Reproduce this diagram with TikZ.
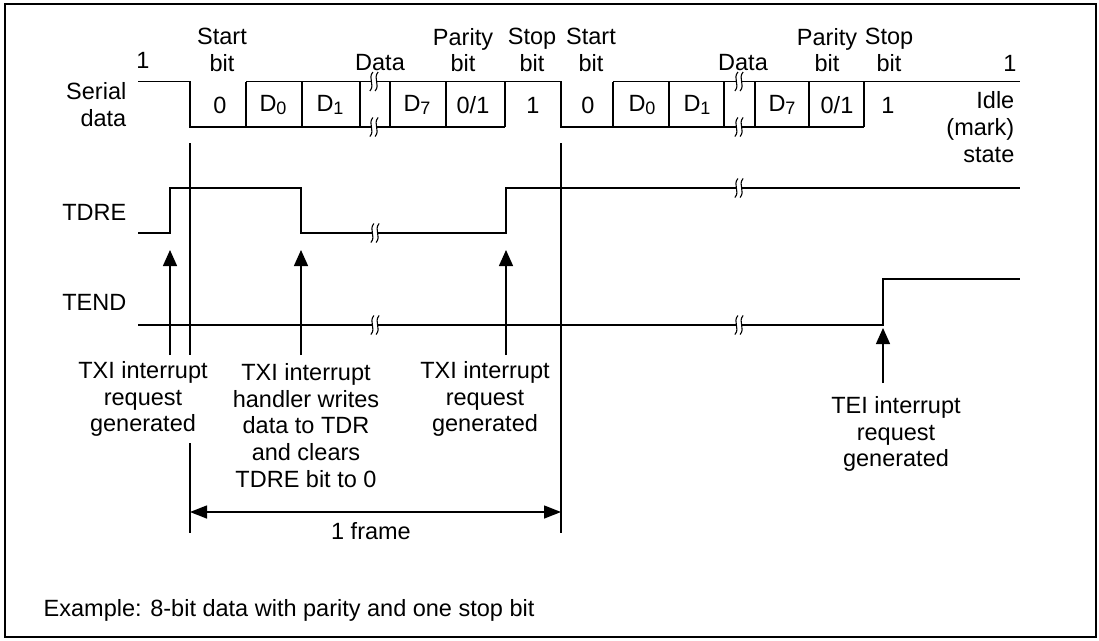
\documentclass[tikz,border=0pt]{standalone}
\usepackage{fontspec}
\setmainfont{Liberation Sans}
\usetikzlibrary{arrows.meta}
\newcommand{\Dsub}[1]{D\raisebox{-0.28ex}{\fontsize{18}{18}\selectfont #1}}
\begin{document}
\begin{tikzpicture}[x=1pt,y=-1pt, line width=1.4pt,
  lbl/.style={inner sep=0pt, font=\fontsize{23.5}{26.7}\selectfont, align=center},
  upar/.style={-{Triangle[length=16pt,width=14pt]}},
  dimar/.style={{Triangle[length=17pt,width=13pt]}-{Triangle[length=17pt,width=13pt]}},
  brk/.pic={
    \fill[white] (-2.6,-6) rectangle (2.6,6);
    \foreach \o in {-2.6,2.6}
      \draw[line width=1.1pt] ({\o+1.5},-9.5) .. controls ({\o-4},-3) and ({\o+4},3) .. ({\o-1.5},9.5);
  }
]
\useasboundingbox (0,0) rectangle (1099,640);
\draw[line width=1.5pt] (5,4) rectangle (1096,637);

% ---------------- Serial data ----------------
\draw (138,81.5) -- (190,81.5) -- (190,127) -- (505,127);
\draw (246,81.5) -- (561,81.5) -- (561,127) -- (864,127);
\draw (613,81.5) -- (1020,81.5);
\foreach \x in {246,302,360,390,446,505,613,669,724,755,809,864}
  \draw (\x,81.5) -- (\x,127);
\pic at (374,81.5) {brk};
\pic at (374,127) {brk};
\pic at (739,81.5) {brk};
\pic at (739,127) {brk};

% ---------------- TDRE ----------------
\draw (138,233) -- (170,233) -- (170,188) -- (301,188) -- (301,233) -- (506,233) -- (506,188) -- (1020,188);
\pic at (375,233) {brk};
\pic at (739,188) {brk};

% ---------------- TEND ----------------
\draw (138,325) -- (883,325) -- (883,279) -- (1020,279);
\pic at (375,325) {brk};
\pic at (739,325) {brk};

% ---------------- frame markers ----------------
\coordinate (fa1) at (190,143);
\coordinate (fa2) at (190,355);
\coordinate (fa3) at (190,443);
\coordinate (fa4) at (190,533);
\coordinate (fb1) at (561,143);
\coordinate (fb2) at (561,533);
\draw (fa1) -- (fa2);
\draw (fa3) -- (fa4);
\draw (fb1) -- (fb2);
\coordinate (fl) at (190,512);
\coordinate (fr) at (561,512);
\draw[dimar] (fl) -- (fr);
\node[lbl] (frame) at (371,531) {1 frame};

% ---------------- labels left ----------------
\node[lbl, anchor=east, align=right] (serial) at (127,104.5) {Serial\\data};
\node[lbl, anchor=east] (tdre) at (127,212) {TDRE};
\node[lbl, anchor=east] (tend) at (127,302) {TEND};
\node[lbl] (one1) at (143,60) {1};

% ---------------- labels top ----------------
\node[lbl] (start1) at (222,50) {Start\\bit};
\node[lbl] (data1) at (380,63) {Data};
\node[lbl] (par1) at (463,50) {Parity\\bit};
\node[lbl] (stop1) at (532,50) {Stop\\bit};
\node[lbl] (start2) at (591,50) {Start\\bit};
\node[lbl] (data2) at (743,63) {Data};
\node[lbl] (par2) at (827,50) {Parity\\bit};
\node[lbl] (stop2) at (889,50) {Stop\\bit};
\node[lbl] (one2) at (1010,63) {1};
\node[lbl, anchor=east, align=right] (idle) at (1015,127) {Idle\\(mark)\\state};

% ---------------- bit contents ----------------
\node[lbl] (b10) at (220,105) {0};
\node[lbl] (b11) at (273,105) {\Dsub{0}};
\node[lbl] (b12) at (330,105) {\Dsub{1}};
\node[lbl] (b17) at (417,105) {\Dsub{7}};
\node[lbl] (b1p) at (473,105) {0/1};
\node[lbl] (b1s) at (533,105) {1};
\node[lbl] (b20) at (588,105) {0};
\node[lbl] (b21) at (642,105) {\Dsub{0}};
\node[lbl] (b22) at (697,105) {\Dsub{1}};
\node[lbl] (b27) at (782,105) {\Dsub{7}};
\node[lbl] (b2p) at (837,105) {0/1};
\node[lbl] (b2s) at (888,105) {1};

% ---------------- annotations ----------------
\node[lbl] (txi1) at (143,399) {TXI interrupt\\request\\generated};
\node[lbl] (txi2) at (306,425.5) {TXI interrupt\\handler writes\\data to TDR\\and clears\\TDRE bit to 0};
\node[lbl] (txi3) at (485,399) {TXI interrupt\\request\\generated};
\node[lbl] (tei) at (896,434) {TEI interrupt\\request\\generated};

\coordinate (a1s) at (170,355); \coordinate (a1e) at (170,250);
\coordinate (a2s) at (301,355); \coordinate (a2e) at (301,250);
\coordinate (a3s) at (506,355); \coordinate (a3e) at (506,250);
\coordinate (a4s) at (883,383); \coordinate (a4e) at (883,328);
\draw[upar] (a1s) -- (a1e);
\draw[upar] (a2s) -- (a2e);
\draw[upar] (a3s) -- (a3e);
\draw[upar] (a4s) -- (a4e);

\node[lbl, anchor=west] (example) at (43,610) {Example: 8-bit data with parity and one stop bit};
\end{tikzpicture}
\end{document}
